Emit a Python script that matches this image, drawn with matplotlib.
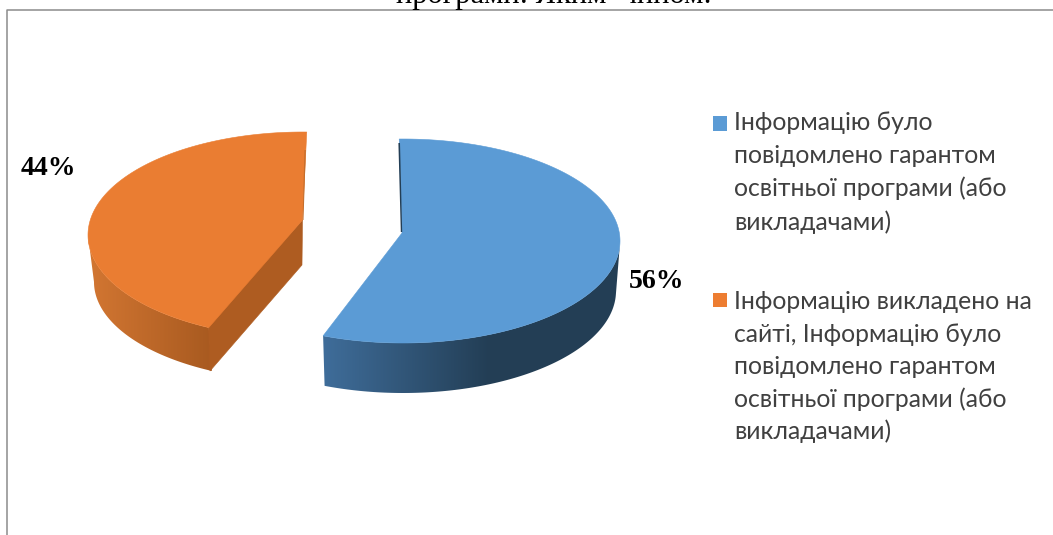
"""Exploded 3D-look pie chart, drawn on a pixel-sized axes."""
import matplotlib

matplotlib.use("Agg")
import matplotlib.pyplot as plt
import numpy as np
from matplotlib.colors import LinearSegmentedColormap
from matplotlib.patches import Polygon, Rectangle

title_tail = "програми: Яким  чином:"
shares = [56, 44]
share_labels = ["56%", "44%"]
legend_blue = ["Інформацію було", "повідомлено гарантом",
               "освітньої програми (або", "викладачами)"]
legend_orange = ["Інформацію викладено на", "сайті, Інформацію було",
                 "повідомлено гарантом", "освітньої програми (або",
                 "викладачами)"]

BLUE, ORANGE = "#5b9bd5", "#ea7d32"
LEGEND_FONT = "Lato"


def rim(cx, cy, rx, ry, theta):
    t = np.radians(theta)
    return np.column_stack([cx + rx * np.sin(t), cy - ry * np.cos(t)])


def draw_side(ax, top, bottom, lo, hi, x0, x1, c0, c1):
    """Outer wall between two rims, shaded left to right from c0 (x0) to c1 (x1)."""
    theta = np.linspace(lo, hi, 120)
    outline = np.vstack([rim(*top, theta), rim(*bottom, theta[::-1])])
    cmap = LinearSegmentedColormap.from_list("side", [c0, c1])
    grad = np.linspace(0, 1, 256)[None, :]
    im = ax.imshow(grad, cmap=cmap, extent=(x0, x1, 535, 0), aspect="auto", zorder=2)
    # flat colour beyond the ramp
    ax.add_patch(Rectangle((x0 - 300, 0), 300, 535, fc=c0, ec="none", zorder=2,
                           clip_path=Polygon(outline, transform=ax.transData)))
    ax.add_patch(Rectangle((x1, 0), 300, 535, fc=c1, ec="none", zorder=2,
                           clip_path=Polygon(outline, transform=ax.transData)))
    im.set_clip_path(Polygon(outline, transform=ax.transData))


def draw_top(ax, top, start, span, apex, face):
    theta = np.linspace(start, start + span, 240)
    ax.add_patch(Polygon(np.vstack([[apex], rim(*top, theta)]), fc=face, ec=face, lw=0.4, zorder=3))


fig, ax = plt.subplots(figsize=(10.53, 5.35), dpi=100)
fig.subplots_adjust(0, 0, 1, 1)
ax.axis("off")

# frame, cut off at the right and bottom of the crop
ax.plot([7, 7, 1053], [535, 10, 10], color="#8c8c8c", lw=1.1, zorder=1)
ax.text(554, 3.5, title_tail, ha="center", va="baseline", fontsize=22,
        family="Liberation Serif", color="black", clip_on=False, zorder=4)

span_blue = 360 * shares[0] / sum(shares)
span_orange = 360 * shares[1] / sum(shares)

# blue slice
blue_top = (403, 241, 217, 102)
blue_bottom = (403, 291, 213, 102)
draw_side(ax, blue_top, blue_bottom, span_blue, 92, 323, 490, "#3f6d9a", "#233e55")
draw_top(ax, blue_top, -1, span_blue + 1, (402, 233), BLUE)
ax.add_patch(Polygon([(398.4, 143), (400.8, 232), (402.2, 232), (400, 143)],
                     fc="#233e55", ec="none", zorder=4))

# orange slice, pulled to the upper left
orange_top = (303, 235, 215, 103)
orange_bottom = (304, 282, 210, 99)
draw_side(ax, orange_top, orange_bottom, 206, 270, 90, 212, "#d27632", "#a85a20")
ax.add_patch(Polygon([(302.5, 220), (208.5, 324), (210, 371), (302, 265)],
                     fc="#ae5c21", ec="#ae5c21", lw=0.4, zorder=3))
draw_top(ax, orange_top, 206, span_orange - 3.4, (302.5, 220), ORANGE)
ax.add_patch(Polygon([(304.5, 150), (302.5, 220), (303.5, 220), (305.8, 150)],
                     fc="#c56e2c", ec="none", zorder=4))

ax.text(629, 288, share_labels[0], fontsize=20, fontweight="bold",
        family="Liberation Serif", va="baseline", zorder=5)
ax.text(21, 175, share_labels[1], fontsize=20, fontweight="bold",
        family="Liberation Serif", va="baseline", zorder=5)

# legend
ax.add_patch(Rectangle((713, 116), 14, 15, fc=BLUE, ec="none"))
ax.add_patch(Rectangle((713, 293), 14, 14, fc="#ed7d31", ec="none"))
for i, line in enumerate(legend_blue):
    ax.text(734, 130 + 33.2 * i, line, fontsize=17.8, family=LEGEND_FONT,
            color="#404040", va="baseline")
for i, line in enumerate(legend_orange):
    ax.text(734, 309 + 32.6 * i, line, fontsize=17.8, family=LEGEND_FONT,
            color="#404040", va="baseline")

ax.set_xlim(0, 1053)
ax.set_ylim(535, 0)

fig.savefig("out.png", dpi=100)
